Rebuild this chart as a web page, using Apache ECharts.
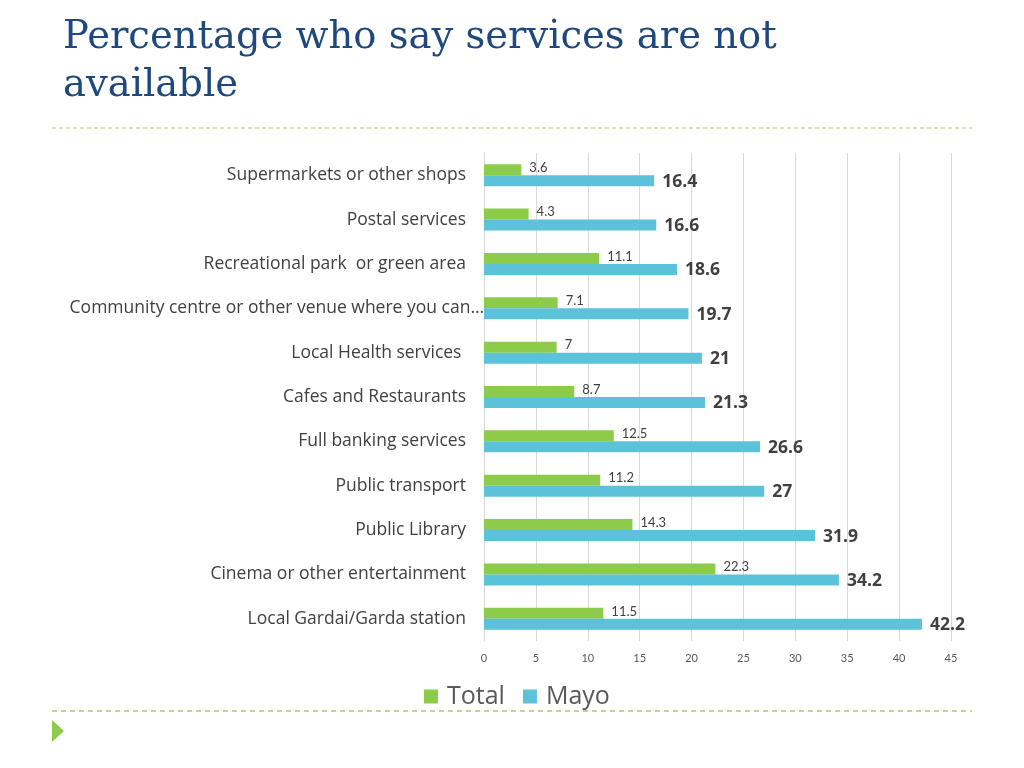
<!DOCTYPE html>
<html>
<head>
<meta charset="utf-8">
<script src="https://cdn.jsdelivr.net/npm/echarts@6/dist/echarts.min.js"></script>
<style>html,body{margin:0;padding:0;background:#fff}#c{width:1024px;height:768px}</style>
</head>
<body>
<div id="c"></div>
<script>
const categories = [
  "Supermarkets or other shops",
  "Postal services",
  "Recreational park  or green area",
  "Community centre or other venue where you can…",
  "Local Health services ",
  "Cafes and Restaurants",
  "Full banking services",
  "Public transport",
  "Public Library",
  "Cinema or other entertainment",
  "Local Gardai/Garda station"
];
const totalValues = [3.6, 4.3, 11.1, 7.1, 7, 8.7, 12.5, 11.2, 14.3, 22.3, 11.5];
const mayoValues = [16.4, 16.6, 18.6, 19.7, 21, 21.3, 26.6, 27, 31.9, 34.2, 42.2];
const xTicks = [0, 5, 10, 15, 20, 25, 30, 35, 40, 45];

const font = 'Lato, "Open Sans", sans-serif';
const font2 = '"Open Sans", Lato, sans-serif';
const chart = echarts.init(document.getElementById('c'));
chart.setOption({
  animation: false,
  title: {
    text: 'Percentage who say services are not\navailable',
    left: 58, top: 9,
    textStyle: { fontFamily: '"DejaVu Serif", serif', fontSize: 38.5, fontWeight: 'normal', color: '#1F497D', lineHeight: 48 }
  },
  legend: {
    data: ['Total', 'Mayo'],
    left: 419, top: 679,
    itemWidth: 14, itemHeight: 14, itemGap: 18,
    icon: 'rect',
    textStyle: { fontFamily: font2, fontSize: 25, color: '#595959', padding: [0, 0, 0, 4] }
  },
  grid: { left: 484, right: 73, top: 153, bottom: 127, containLabel: false },
  xAxis: {
    type: 'value', min: 0, max: 45, interval: 5,
    axisLine: { show: false }, axisTick: { show: false },
    splitLine: { show: true, lineStyle: { color: '#D9D9D9', width: 1 } },
    axisLabel: { fontFamily: font, fontSize: 11, color: '#595959', margin: 12,
      formatter: v => xTicks.includes(v) ? String(v) : '' }
  },
  yAxis: {
    type: 'category', inverse: true,
    data: categories.map((c, i) => i === 3 ? { value: c, textStyle: { padding: [0, -18, 0, 0] } } : c),
    axisLine: { show: true, lineStyle: { color: '#D9D9D9' } }, axisTick: { show: false },
    axisLabel: { fontFamily: font2, fontSize: 17.5, color: '#404040', margin: 18 }
  },
  series: [
    {
      name: 'Total', type: 'bar', data: totalValues,
      barWidth: 11, barGap: '0%',
      itemStyle: { color: '#8DCB4A' },
      label: { show: true, position: 'right', distance: 8, offset: [0, -2], fontFamily: font, fontSize: 13, color: '#404040' }
    },
    {
      name: 'Mayo', type: 'bar', data: mayoValues,
      barWidth: 11, barGap: '0%',
      itemStyle: { color: '#5BC2D9' },
      label: { show: true, position: 'right', distance: 8, offset: [0, 1], fontFamily: font2, fontSize: 17.5, fontWeight: 'bold', color: '#404040' }
    }
  ],
  graphic: [
    { type: 'line', shape: { x1: 52, y1: 128, x2: 972, y2: 128 }, style: { stroke: '#C9DA9A', lineWidth: 1.5, lineDash: [4, 3] } },
    { type: 'line', shape: { x1: 52, y1: 711, x2: 972, y2: 711 }, style: { stroke: '#A9CD6A', lineWidth: 1.5, lineDash: [5, 4] } },
    { type: 'polygon', shape: { points: [[52, 720], [64, 731], [52, 742]] }, style: { fill: '#8DCB4A' } }
  ]
});
</script>
</body>
</html>
